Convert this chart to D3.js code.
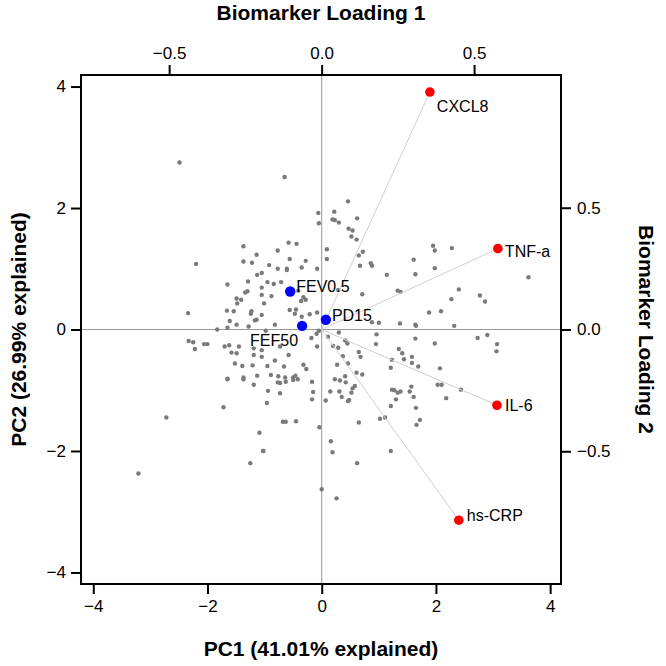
<!DOCTYPE html>
<html><head><meta charset="utf-8">
<script src="https://cdn.jsdelivr.net/npm/d3@7/dist/d3.min.js"></script>
<style>body{margin:0;background:#fff}svg{display:block;font-family:"Liberation Sans",Arial,sans-serif}</style>
</head><body><svg id="c" width="666" height="666"></svg>
<script>
const scoresPx = [
[179.3,162.7],[243.3,247],[256.7,255.3],[243.3,262],[252.3,263],[196.3,264.3],
[284.7,177.3],[348,201.7],[318,213],[334,212.3],[332.3,219.7],[334.7,220.7],[339,222.7],[319,223.7],[357.3,218.7],[348.3,229],[352.7,231],[351.3,237],[356.7,240],[288.3,243],[296.7,244],[277.7,251],[327,249.7],[362.7,252],[358.7,255.7],[289.7,259.7],[305.7,261],[326.7,259.3],[269.3,265.3],[302,267.7],[287,269],[317,269.3],[360,266.3],[371,263.7],[371.7,266.3],
[433.3,246],[434.7,251],[451.7,248.7],[413.7,260],[435,268.3],
[386.7,275.3],[415.3,274.7],[397.7,291],[400.3,292.3],[459,290],[479.7,296],[485,302],[451.3,299.7],[429,313],[441,311.7],[400,324],[415.3,325],[415.7,326.3],[454.3,326.3],[415.3,339],[435,343.7],[477.7,338.7],[487.3,335.3],[497,344.3],[496.3,352],[398.7,349.3],[402,353.7],[412,357.3],[391.7,360.7],[404,360],[411.7,363.7],[418.3,367],[391,368],[439.7,369],[528.5,277.5],
[392,390.3],[394.3,391],[397.7,393.3],[400.3,392],[411.3,387],[409.7,392.3],[413.7,397.3],[396,400],[437.7,385.3],[441.7,385.3],[461,390],[446,399],[390.7,406.7],[415.7,408.7],[385.3,418.3],[419.7,420.3],[416.7,425.3],[390.7,451.7],
[277.7,383],[280.3,383.3],[286,382.3],[293,380.3],[297.7,380],[312,382.3],[268.3,391.7],[280.3,394],[266.7,403.7],[313,392.7],[312,399.7],[325.7,401],[330.3,392],[335,380],[340,381.3],[345.7,383],[339.3,392],[341.7,397.7],[351.3,393.3],[352.3,389],[354.7,386.7],[347.7,402],[349,400.3],[283,422.3],[285.7,422.3],[296,421.7],[319.3,427.7],[358.7,423],[379.7,419.3],[263.3,451.3],[331,442],[332.3,453],[357,464],[321.7,489.7],[336.7,499],
[227.7,380],[243.7,380],[254,385.3],[223.3,407.7],[166.3,418.3],[259.7,433.3],[262.7,451.7],[250.3,463.7],[138.3,474],
[257.3,275],[261.7,273.7],[227.7,285],[248.3,282],[262,288],[245,293],[247.3,292],[262,295.3],[236.7,299],[241,300.3],[237,304],[188.3,313.3],[227,311.3],[233.7,311.7],[251.7,312],[251,314],[262,315.3],[230,321.7],[236.7,325],[255,321],[256.7,320.3],[217.3,329.7],[227.7,328.3],[248.7,326.7],[188.7,341.3],[193.3,343],[204.3,344.7],[207.3,344.3],[195,349.3],[224.7,347.3],[229,346],[238.7,347],[231.7,353.3],[236.7,353.7],[254,349],[254,355.7],[261.7,357.3],[234.7,364.3],[242.3,366.3],[252.7,365.7],[227.7,379],[243.7,378.3],[257,376],
[287,270.7],[267.3,282.7],[274,284.3],[271.3,296.7],[301.3,301.7],[305.7,300],[289.7,310.3],[296,309.7],[317,313],[274.7,325],[311.3,338.3],[316.3,334.3],[317,347.3],[288.7,355.3],[274.7,361.3],[285.3,378],[295.7,376.3],[303.3,365.3],[306.3,369.7],[327.7,337.3],[338.7,333],[345.3,340.7],[347.3,344],[333,346.7],[338,348],[343,357],[358.7,352.3],[360.3,357.3],[337.3,365],[348,364],[356.7,373],[362,374.7],[345,377],[379,323.3],[372,323],[376.7,335],[375.7,344.7],[338,290.7],[362,294.7],
[277.7,269],[281.3,282.7],[298.3,291.3],[303.7,298],[295,314.3],[302,317],[309.7,315],[264,303.7],[266,331],[318.7,331.3],[262,350.7],[280,347],[267.3,366.7],[284,367],[271,375.7],[278.3,377],[293,378.3]
];
const pc1 = scoresPx.map(d => +((d[0]-321.7)/57.1).toFixed(2));
const pc2 = scoresPx.map(d => +((330-d[1])/60.8).toFixed(2));

const markers   = ["CXCL8","TNF-a","IL-6","hs-CRP","FEV0.5","PD15","FEF50"];
const loading1  = [0.355, 0.578, 0.575, 0.450, -0.103, 0.014, -0.064];
const loading2  = [0.975, 0.332, -0.311, -0.783, 0.156, 0.040, 0.015];
const markerGroup = ["bio","bio","bio","bio","lung","lung","lung"];

const pcTicks = [-4,-2,0,2,4];
const loadTicks = [-0.5,0,0.5];
const xTitle = "PC1 (41.01% explained)";
const yTitle = "PC2 (26.99% explained)";
const topTitle = "Biomarker Loading 1";
const rightTitle = "Biomarker Loading 2";

// ---- layout ----
const L=81,R=561,T=75,B=584;
const x = d3.scaleLinear().domain([-4.215,4.19]).range([L,R]);
const y = d3.scaleLinear().domain([-4.19,4.19]).range([B,T]);
const xl = d3.scaleLinear().domain([-0.789,0.785]).range([L,R]);
const yl = d3.scaleLinear().domain([-1.045,1.045]).range([B,T]);

const svg = d3.select("#c");
const fmtL = d => d3.format(".1f")(d);

svg.append("line").attr("x1",x(0)).attr("x2",x(0)).attr("y1",T).attr("y2",B).attr("stroke","#999").attr("stroke-width",1);
svg.append("line").attr("x1",L).attr("x2",R).attr("y1",y(0)).attr("y2",y(0)).attr("stroke","#999").attr("stroke-width",1);

svg.append("g").selectAll("circle").data(pc1.map((v,i)=>[v,pc2[i]])).join("circle")
  .attr("cx",d=>x(d[0])).attr("cy",d=>y(d[1])).attr("r",2.2).attr("fill","#7a7a7a");

const ld = markers.map((m,i)=>({m, a:loading1[i], b:loading2[i], g:markerGroup[i]}));
svg.append("g").selectAll("line").data(ld.filter(d=>d.g==="bio")).join("line")
  .attr("x1",xl(0)).attr("y1",yl(0)).attr("x2",d=>xl(d.a)).attr("y2",d=>yl(d.b))
  .attr("stroke","#cfcfcf").attr("stroke-width",1);
svg.append("g").selectAll("circle").data(ld).join("circle")
  .attr("cx",d=>xl(d.a)).attr("cy",d=>yl(d.b)).attr("r",d=>d.g==="bio"?4.8:5.2)
  .attr("fill",d=>d.g==="bio"?"#ff0000":"#0000ff");
const lab = {"CXCL8":[7,14,"start"],"TNF-a":[7,3,"start"],"IL-6":[8,0,"start"],"hs-CRP":[8,-5,"start"],
  "FEV0.5":[6,-5,"start"],"PD15":[6,-4,"start"],"FEF50":[-4,15,"end"]};
svg.append("g").selectAll("text").data(ld).join("text")
  .attr("x",d=>xl(d.a)+lab[d.m][0]).attr("y",d=>yl(d.b)+lab[d.m][1]+5.5)
  .attr("text-anchor",d=>lab[d.m][2]).attr("font-size",16).attr("fill","#000").text(d=>d.m);

svg.append("rect").attr("x",L).attr("y",T).attr("width",R-L).attr("height",B-T).attr("fill","none").attr("stroke","#000").attr("stroke-width",2);

function styleAxis(g){ g.selectAll(".domain").remove(); g.selectAll("line").attr("stroke","#000").attr("stroke-width",2);
  g.selectAll("text").attr("font-size",17).attr("fill","#000").attr("font-family","Liberation Sans, Arial, sans-serif"); }
svg.append("g").attr("transform",`translate(0,${B+1})`).call(d3.axisBottom(x).tickValues(pcTicks).tickSize(9).tickPadding(6).tickFormat(d3.format("d"))).call(styleAxis);
svg.append("g").attr("transform",`translate(${L-1},0)`).call(d3.axisLeft(y).tickValues(pcTicks).tickSize(9).tickPadding(5).tickFormat(d3.format("d"))).call(styleAxis);
svg.append("g").attr("transform",`translate(0,${T-1})`).call(d3.axisTop(xl).tickValues(loadTicks).tickSize(9).tickPadding(6).tickFormat(fmtL)).call(styleAxis);
svg.append("g").attr("transform",`translate(${R+1},0)`).call(d3.axisRight(yl).tickValues(loadTicks).tickSize(9).tickPadding(6).tickFormat(fmtL)).call(styleAxis);

svg.append("text").attr("x",(L+R)/2).attr("y",656).attr("text-anchor","middle").attr("font-size",21).attr("font-weight","bold").text(xTitle);
svg.append("text").attr("x",(L+R)/2).attr("y",20).attr("text-anchor","middle").attr("font-size",21).attr("font-weight","bold").text(topTitle);
svg.append("text").attr("transform",`translate(19,${(T+B)/2}) rotate(-90)`).attr("text-anchor","middle").attr("dy","0.35em").attr("font-size",21).attr("font-weight","bold").text(yTitle);
svg.append("text").attr("transform",`translate(646,${(T+B)/2}) rotate(90)`).attr("text-anchor","middle").attr("dy","0.35em").attr("font-size",21).attr("font-weight","bold").text(rightTitle);
</script></body></html>
